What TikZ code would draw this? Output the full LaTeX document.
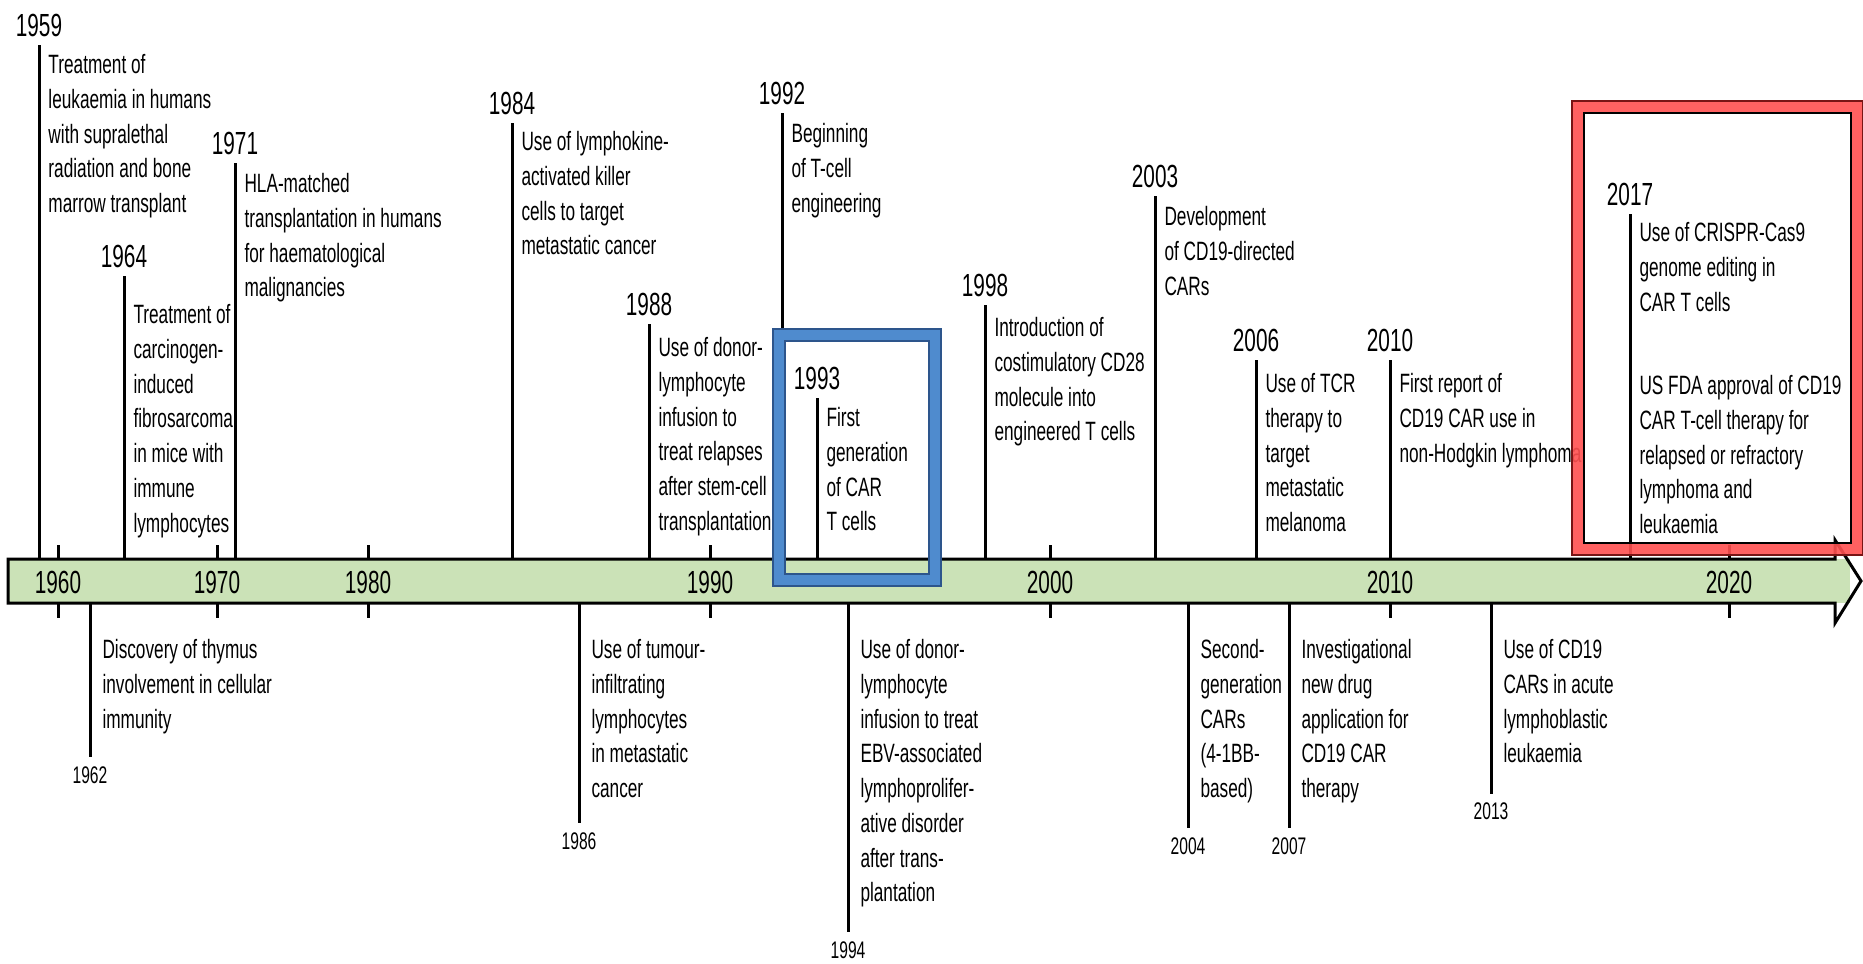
\documentclass[tikz,border=0pt]{standalone}
\usepackage{fontspec}
\setmainfont{Liberation Sans}[FakeStretch=0.65]
\definecolor{bargreen}{RGB}{203,226,183}
\definecolor{boxblue}{RGB}{79,139,206}
\definecolor{boxblueedge}{RGB}{45,85,140}
\definecolor{boxred}{RGB}{255,80,80}
\definecolor{boxrededge}{RGB}{120,20,20}
\newcommand\TopEv[6]{%
  \coordinate (#1b) at (#2,559);
  \coordinate (#1t) at (#2,#3);
  \draw[evline] (#1b) -- (#1t);
  \node[yearlbl] (#1y) at (#2,#3-20) {#5};
  \node[evtext, anchor=north west] (#1x) at (#2+9,#4-11) {#6};
}
\newcommand\BotEv[6]{%
  \coordinate (#1b) at (#2,603);
  \coordinate (#1t) at (#2,#3);
  \draw[evline] (#1b) -- (#1t);
  \node[byearlbl] (#1y) at (#2,#4) {#5};
  \node[evtext, anchor=north west] (#1x) at (#2+12,639) {#6};
}
\begin{document}
\begin{tikzpicture}[x=0.4pt,y=-0.4pt,
  evline/.style={line width=1.2pt, black},
  tickline/.style={line width=1.2pt, black},
  yearlbl/.style={font=\fontsize{12.8}{14}\selectfont, inner sep=0pt},
  byearlbl/.style={font=\fontsize{9.6}{11}\selectfont, inner sep=0pt},
  decade/.style={font=\fontsize{12.8}{14}\selectfont, inner sep=0pt},
  evtext/.style={font=\fontsize{10.6}{13.9}\selectfont, align=left, inner sep=0pt},
  hibox/.style={line width=4.8pt},
  hiedge/.style={line width=0.5pt}]
\useasboundingbox (0,0) rectangle (1863,963);
\fill[white] (0,0) rectangle (1863,963);

% timeline bar
\fill[bargreen] (8,559) rectangle (1850,603);
\draw[line width=1.2pt, line join=miter]
  (1835,603) -- (8,603) -- (8,559) -- (1835,559) -- (1835,540)
  -- (1861,581) -- (1835,623) -- cycle;

\foreach \yr/\xx in {1960/58,1970/217,1980/368,1990/710,2000/1050,2010/1390,2020/1729}{
  \draw[tickline] (\xx,545) -- (\xx,559);
  \draw[tickline] (\xx,603) -- (\xx,618);
  \node[decade] (d\yr) at (\xx,582) {\yr};
}

% events above the bar
\TopEv{e1959}{39}{45}{65}{1959}{Treatment of\\leukaemia in humans\\with supralethal\\radiation and bone\\marrow transplant}
\TopEv{e1964}{124}{276}{315}{1964}{Treatment of\\carcinogen-\\induced\\fibrosarcoma\\in mice with\\immune\\lymphocytes}
\TopEv{e1971}{235}{163}{184}{1971}{HLA-matched\\transplantation in humans\\for haematological\\malignancies}
\TopEv{e1984}{512}{123}{142}{1984}{Use of lymphokine-\\activated killer\\cells to target\\metastatic cancer}
\TopEv{e1988}{649}{324}{348}{1988}{Use of donor-\\lymphocyte\\infusion to\\treat relapses\\after stem-cell\\transplantation}
\TopEv{e1992}{782}{113}{134}{1992}{Beginning\\of T-cell\\engineering}
\TopEv{e1993}{817}{398}{418}{1993}{First\\generation\\of CAR\\T cells}
\TopEv{e1998}{985}{305}{328}{1998}{Introduction of\\costimulatory CD28\\molecule into\\engineered T cells}
\TopEv{e2003}{1155}{196}{217}{2003}{Development\\of CD19-directed\\CARs}
\TopEv{e2006}{1256}{360}{384}{2006}{Use of TCR\\therapy to\\target\\metastatic\\melanoma}
\TopEv{e2010}{1390}{360}{384}{2010}{First report of\\CD19 CAR use in\\non-Hodgkin lymphoma}
\TopEv{e2017}{1630}{214}{233}{2017}{Use of CRISPR-Cas9\\genome editing in\\CAR T cells}
\node[evtext, anchor=north west] (e2017z) at (1639,375) {US FDA approval of CD19\\CAR T-cell therapy for\\relapsed or refractory\\lymphoma and\\leukaemia};

% events below the bar
\BotEv{e1962}{90}{757}{775}{1962}{Discovery of thymus\\involvement in cellular\\immunity}
\BotEv{e1986}{579}{823}{841}{1986}{Use of tumour-\\infiltrating\\lymphocytes\\in metastatic\\cancer}
\BotEv{e1994}{848}{932}{950}{1994}{Use of donor-\\lymphocyte\\infusion to treat\\EBV-associated\\lymphoprolifer-\\ative disorder\\after trans-\\plantation}
\BotEv{e2004}{1188}{828}{846}{2004}{Second-\\generation\\CARs\\(4-1BB-\\based)}
\BotEv{e2007}{1289}{828}{846}{2007}{Investigational\\new drug\\application for\\CD19 CAR\\therapy}
\BotEv{e2013}{1491}{794}{811}{2013}{Use of CD19\\CARs in acute\\lymphoblastic\\leukaemia}

% highlight boxes
\draw[hibox, boxblue] (779,335) rectangle (935,580);
\draw[hiedge, boxblueedge] (773,329) rectangle (941,586);
\draw[hiedge, boxblueedge] (785,341) rectangle (929,574);
\draw[hibox, boxred, opacity=0.9] (1578,107) rectangle (1857,549);
\draw[hiedge, boxrededge] (1572,101) rectangle (1863,555);
\draw[hiedge, black] (1584,113) rectangle (1851,543);
\end{tikzpicture}
\end{document}
